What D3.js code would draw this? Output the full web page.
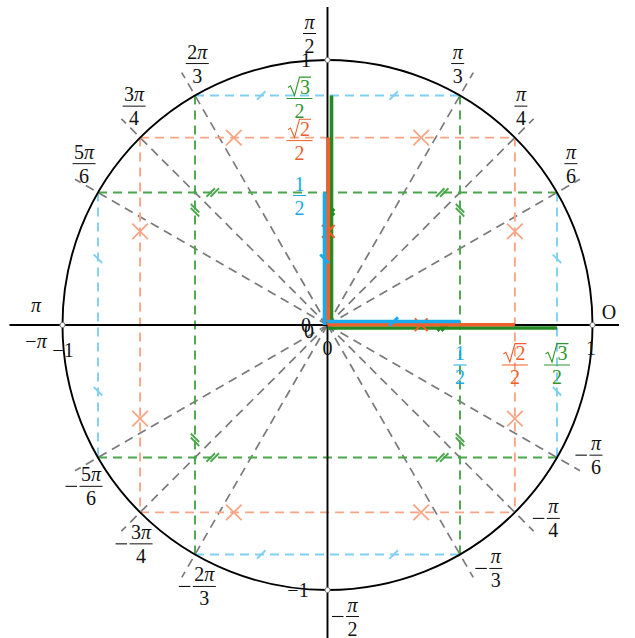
<!DOCTYPE html>
<html><head><meta charset="utf-8">
<script src="https://cdn.jsdelivr.net/npm/d3@7"></script>
<style>body{margin:0;background:#fff}svg{display:block}</style>
</head><body>
<svg id="c" width="635" height="638"></svg>
<script>
// ---- data ----
const specialValues = [0.5, Math.SQRT2 / 2, Math.sqrt(3) / 2];
const valueNumerators = ["1", "√2", "√3"];
const valueDenominators = ["2", "2", "2"];
const seriesColors = ["#1aabee", "#f0602c", "#228b22"];
const dashColors = ["#7fd0f3", "#f7a585", "#4aa64a"];
const textColors = ["#19a8e8", "#ee5e2c", "#2f962f"];
const tickKinds = ["slash", "cross", "double"];

const angleDegrees = [30, 45, 60, 90, 120, 135, 150, 180, -180, -150, -135, -120, -90, -60, -45, -30];
const angleNumerators = ["π", "π", "π", "π", "2π", "3π", "5π", "π", "π", "5π", "3π", "2π", "π", "π", "π", "π"];
const angleDenominators = ["6", "4", "3", "2", "3", "4", "6", "", "", "6", "4", "3", "2", "3", "4", "6"];
const radialDegrees = [30, 45, 60, 120, 135, 150, -30, -45, -60, -120, -135, -150];

// ---- setup ----
const svg = d3.select("#c");
const fs = 20;
const FONT = "'Liberation Serif','DejaVu Serif',serif";
svg.attr("font-family", FONT).attr("font-size", fs);
const x = d3.scaleLinear().domain([-1, 1]).range([62.5, 592.5]);
const y = d3.scaleLinear().domain([-1, 1]).range([590, 60]);
const R = x(1) - x(0);
const rad = d => d * Math.PI / 180;

// grey radial dashed lines
svg.append("g").selectAll("line").data(radialDegrees).join("line")
  .attr("x1", x(0)).attr("y1", y(0))
  .attr("x2", d => x(1.1 * Math.cos(rad(d)))).attr("y2", d => y(1.1 * Math.sin(rad(d))))
  .attr("stroke", "#7a7a7a").attr("stroke-width", 1.7).attr("stroke-dasharray", "9,6");

function tick(g, px, py, dir, kind, color, sw, L) {
  const [dx, dy] = dir;
  const c = Math.SQRT1_2;
  const r1 = [c * dx + c * dy, -c * dx + c * dy];
  const r2 = [c * dx - c * dy, c * dx + c * dy];
  const seg = (cx, cy, r, len) => g.append("line")
    .attr("x1", cx - r[0] * len / 2).attr("y1", cy - r[1] * len / 2)
    .attr("x2", cx + r[0] * len / 2).attr("y2", cy + r[1] * len / 2)
    .attr("stroke", color).attr("stroke-width", sw);
  if (kind === "slash") seg(px, py, r1, L);
  else if (kind === "double") { seg(px - dx * 2, py - dy * 2, r1, L); seg(px + dx * 2, py + dy * 2, r1, L); }
  else { seg(px, py, r1, L); seg(px, py, r2, L); }
}

// colored dashed guide lines
const dashG = svg.append("g");
specialValues.forEach((v, i) => {
  const w = Math.sqrt(1 - v * v);
  const segs = [[[-v, w], [v, w]], [[-v, -w], [v, -w]], [[-w, v], [-w, -v]], [[w, v], [w, -v]]];
  segs.forEach(([a, b]) => dashG.append("line")
    .attr("x1", x(a[0])).attr("y1", y(a[1])).attr("x2", x(b[0])).attr("y2", y(b[1]))
    .attr("stroke", dashColors[i]).attr("stroke-width", 1.9).attr("stroke-dasharray", "9,6"));
  const L = tickKinds[i] === "cross" ? 22 : 12;
  [-1, 1].forEach(sx => [-1, 1].forEach(sy => {
    tick(dashG, x(sx * v / 2), y(sy * w), [1, 0], tickKinds[i], dashColors[i], 1.8, L);
    tick(dashG, x(sx * w), y(sy * v / 2), [0, 1], tickKinds[i], dashColors[i], 1.8, L);
  }));
});

// unit circle
svg.append("circle").attr("cx", x(0)).attr("cy", y(0)).attr("r", R)
  .attr("fill", "none").attr("stroke", "#000").attr("stroke-width", 1.9);

// axes
svg.append("line").attr("x1", x(-1.2)).attr("x2", x(1.1)).attr("y1", y(0)).attr("y2", y(0))
  .attr("stroke", "#000").attr("stroke-width", 1.9);
svg.append("line").attr("x1", x(0)).attr("x2", x(0)).attr("y1", y(1.2)).attr("y2", y(-1.2))
  .attr("stroke", "#000").attr("stroke-width", 1.9);

// markers at axis/circle intersections
svg.append("g").selectAll("circle").data([[1, 0], [-1, 0], [0, 1], [0, -1]]).join("circle")
  .attr("cx", d => x(d[0])).attr("cy", d => y(d[1])).attr("r", 2.6)
  .attr("fill", "#fff").attr("stroke", "#777").attr("stroke-width", 1);

// solid thick segments on axes (green, orange, blue)
const hOff = [-3.5, -0.3, 3];
const vOff = [-3, 0.8, 4];
const solidG = svg.append("g");
[2, 1, 0].forEach(i => {
  const v = specialValues[i];
  solidG.append("line").attr("x1", x(0)).attr("x2", x(v)).attr("y1", y(0) + hOff[i]).attr("y2", y(0) + hOff[i])
    .attr("stroke", seriesColors[i]).attr("stroke-width", 3.6);
  solidG.append("line").attr("x1", x(0) + vOff[i]).attr("x2", x(0) + vOff[i]).attr("y1", y(0)).attr("y2", y(v))
    .attr("stroke", seriesColors[i]).attr("stroke-width", 3.6);
  const L = tickKinds[i] === "cross" ? 18 : (tickKinds[i] === "double" ? 8 : 12);
  const sw = tickKinds[i] === "cross" ? 2 : 3;
  tick(solidG, x(v / 2), y(0) + hOff[i], [1, 0], tickKinds[i], seriesColors[i], sw, L);
  tick(solidG, x(0) + vOff[i], y(v / 2), [0, 1], tickKinds[i], seriesColors[i], sw, L);
});

// ---- text helpers ----
const labelG = svg.append("g");
function drawRich(parent, s, base, color) {
  if (s[0] === "√") {
    const t = parent.append("text").attr("x", 12).attr("y", base).attr("fill", color).text(s.slice(1));
    const w = t.node().getComputedTextLength();
    parent.append("path")
      .attr("d", `M0,${base - 0.30 * fs} L2.5,${base - 0.38 * fs} L6.5,${base + 0.1 * fs} L11.5,${base - 0.82 * fs} L${13 + w},${base - 0.82 * fs}`)
      .attr("fill", "none").attr("stroke", color).attr("stroke-width", 1.1);
    return 13 + w;
  }
  const t = parent.append("text").attr("x", 0).attr("y", base).attr("fill", color);
  for (const ch of s) t.append("tspan").attr("font-style", ch === "π" ? "italic" : "normal").text(ch);
  return t.node().getComputedTextLength();
}
function fraction(cx, cy, num, den, color, neg) {
  const g = labelG.append("g");
  const ng = g.append("g"); const nw = drawRich(ng, num, cy - 5, color);
  const dg = g.append("g"); const dw = drawRich(dg, den, cy + 19, color);
  const fw = Math.max(nw, dw) + 3;
  const mW = neg ? 14 : 0;
  const left = cx - (fw + mW) / 2;
  const fl = left + mW;
  ng.attr("transform", `translate(${fl + (fw - nw) / 2},0)`);
  dg.attr("transform", `translate(${fl + (fw - dw) / 2},0)`);
  g.append("line").attr("x1", fl).attr("x2", fl + fw).attr("y1", cy).attr("y2", cy)
    .attr("stroke", color).attr("stroke-width", 1);
  if (neg) g.append("line").attr("x1", left).attr("x2", left + 11.5).attr("y1", cy).attr("y2", cy)
    .attr("stroke", color).attr("stroke-width", 1.1);
}
function plain(cx, base, s, color) {
  const t = labelG.append("text").attr("x", cx).attr("y", base).attr("text-anchor", "middle").attr("fill", color || "#111");
  for (const ch of s) t.append("tspan").attr("font-style", ch === "π" ? "italic" : "normal").text(ch);
}

// value labels on the y axis and x axis
specialValues.forEach((v, i) => {
  fraction(x(0) - 28, y(v) + 3, valueNumerators[i], valueDenominators[i], textColors[i], false);
  fraction(x(v), y(0) + 40, valueNumerators[i], valueDenominators[i], textColors[i], false);
});

// angle labels
angleDegrees.forEach((d, i) => {
  const t = rad(d);
  const ex = x(1.1 * Math.cos(t)), ey = y(1.1 * Math.sin(t));
  const s = (d > 90 && d <= 180) ? 1 : -1;
  const cx = ex + 18 * s * Math.sin(t), cy = ey + 18 * s * Math.cos(t);
  const neg = d < 0;
  if (angleDenominators[i]) fraction(cx, cy, angleNumerators[i], angleDenominators[i], "#111", neg);
  else plain(cx, cy + 5, (neg ? "−" : "") + angleNumerators[i]);
});
labelG.append("text").attr("x", x(1.1) - 10).attr("y", y(0) - 6).attr("text-anchor", "middle").attr("fill", "#111").text("O");

// unit tick labels
plain(x(0) - 21.5, y(1) + 7, "1");
plain(x(0) - 29.5, y(-1) + 7, "−1");
plain(x(1) - 1.5, y(0) + 30, "1");
plain(x(-1) + 0.5, y(0) + 32, "−1");
plain(x(0) - 21.5, y(0) + 7, "0");
plain(x(0) - 18.5, y(0) + 13, "0");
plain(x(0), y(0) + 30, "0");
</script>
</body></html>
